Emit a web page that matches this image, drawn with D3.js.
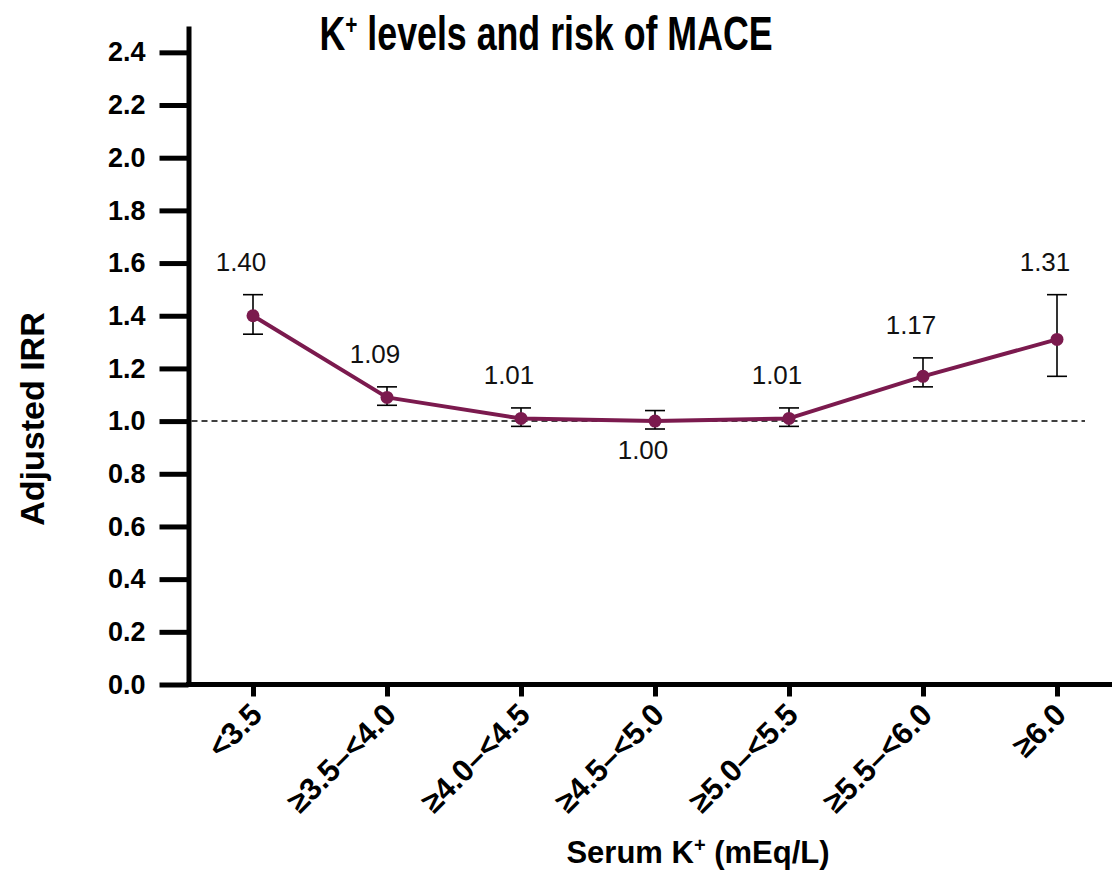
<!DOCTYPE html>
<html>
<head>
<meta charset="utf-8">
<script src="https://cdn.jsdelivr.net/npm/d3@7"></script>
<style>
  html, body { margin: 0; padding: 0; background: #fff; }
  svg { display: block; font-family: "Liberation Sans", Arial, Helvetica, sans-serif; }
</style>
</head>
<body>
<svg id="chart" width="1119" height="870"></svg>
<script>
// Serum potassium categories (mEq/L)
const categories = ["<3.5", "\u22653.5\u2013<4.0", "\u22654.0\u2013<4.5", "\u22654.5\u2013<5.0",
                    "\u22655.0\u2013<5.5", "\u22655.5\u2013<6.0", "\u22656.0"];
// Adjusted incidence rate ratios and 95% confidence limits
const irr   = [1.40, 1.09, 1.01, 1.00, 1.01, 1.17, 1.31];
const lower = [1.33, 1.06, 0.98, 0.97, 0.98, 1.13, 1.17];
const upper = [1.48, 1.13, 1.05, 1.04, 1.05, 1.24, 1.48];
// Y axis tick values
const yTicks = [0, 0.2, 0.4, 0.6, 0.8, 1.0, 1.2, 1.4, 1.6, 1.8, 2.0, 2.2, 2.4];
const referenceIRR = 1.0;

const data = categories.map((c, i) => ({ cat: c, irr: irr[i], lo: lower[i], hi: upper[i] }));

const svg = d3.select("#chart");
const axisX = 188.5;      // position of the vertical axis
const axisY = 684.5;      // position of the horizontal axis
const axisRight = 1112;

const x = d3.scalePoint().domain(categories).range([253, 1057]);
const y = d3.scaleLinear().domain([0, 2.5]).range([axisY, 26]);

const maroon = "#7b1a4e";

// ---- Title (condensed bold) ----
const title = svg.append("text")
  .attr("transform", "translate(546,50) scale(0.745,1)")
  .attr("text-anchor", "middle")
  .attr("font-size", 48).attr("font-weight", "bold");
title.append("tspan").text("K");
title.append("tspan").attr("font-size", 28).attr("dy", -16).text("+");
title.append("tspan").attr("dy", 16).text(" levels and risk of MACE");

// ---- Y axis ----
const yAxis = svg.append("g")
  .attr("transform", `translate(${axisX},0)`)
  .call(d3.axisLeft(y).tickValues(yTicks).tickSize(29).tickSizeOuter(0)
        .tickPadding(14).tickFormat(d3.format(".1f")));
yAxis.select(".domain").attr("stroke-width", 5).attr("stroke", "#000");
yAxis.selectAll(".tick line").attr("stroke-width", 5).attr("stroke", "#000");
yAxis.selectAll(".tick text")
  .attr("font-size", 27).attr("font-weight", "bold")
  .attr("font-family", "Liberation Sans, Arial, sans-serif")
  .attr("fill", "#000");

// ---- X axis ----
const xAxis = svg.append("g")
  .attr("transform", `translate(0,${axisY})`)
  .call(d3.axisBottom(x).tickSize(12).tickSizeOuter(0).tickFormat(""));
xAxis.select(".domain").remove();
xAxis.selectAll(".tick line").attr("stroke-width", 5).attr("stroke", "#000");
xAxis.append("line")
  .attr("x1", axisX - 2.5).attr("x2", axisRight)
  .attr("y1", 0).attr("y2", 0)
  .attr("stroke", "#000").attr("stroke-width", 5);

// rotated category labels
svg.append("g").selectAll("text")
  .data(categories)
  .join("text")
  .attr("transform", d => `translate(${x(d) + 11},${axisY + 32}) rotate(-45)`)
  .attr("text-anchor", "end")
  .attr("font-size", 31).attr("font-weight", "bold")
  .text(d => d);

// ---- Axis titles ----
svg.append("text")
  .attr("transform", `translate(44,419) rotate(-90)`)
  .attr("text-anchor", "middle")
  .attr("font-size", 34).attr("font-weight", "bold")
  .text("Adjusted IRR");

const xTitle = svg.append("text")
  .attr("x", 698).attr("y", 863)
  .attr("text-anchor", "middle")
  .attr("font-size", 31).attr("font-weight", "bold");
xTitle.append("tspan").text("Serum K");
xTitle.append("tspan").attr("font-size", 20).attr("dy", -11).text("+");
xTitle.append("tspan").attr("dy", 11).text(" (mEq/L)");

// ---- Reference line at IRR = 1 ----
svg.append("line")
  .attr("x1", axisX + 3).attr("x2", 1085)
  .attr("y1", y(referenceIRR)).attr("y2", y(referenceIRR))
  .attr("stroke", "#000").attr("stroke-width", 1.5)
  .attr("stroke-dasharray", "6,4");

// ---- Error bars ----
const capHalf = 10;
const eb = svg.append("g").attr("stroke", "#000").attr("stroke-width", 1.6);
eb.selectAll("line.v").data(data).join("line").attr("class", "v")
  .attr("x1", d => x(d.cat)).attr("x2", d => x(d.cat))
  .attr("y1", d => y(d.lo)).attr("y2", d => y(d.hi));
eb.selectAll("line.t").data(data).join("line").attr("class", "t")
  .attr("x1", d => x(d.cat) - capHalf).attr("x2", d => x(d.cat) + capHalf)
  .attr("y1", d => y(d.hi)).attr("y2", d => y(d.hi));
eb.selectAll("line.b").data(data).join("line").attr("class", "b")
  .attr("x1", d => x(d.cat) - capHalf).attr("x2", d => x(d.cat) + capHalf)
  .attr("y1", d => y(d.lo)).attr("y2", d => y(d.lo));

// ---- Line and markers ----
svg.append("path")
  .datum(data)
  .attr("fill", "none")
  .attr("stroke", maroon)
  .attr("stroke-width", 4)
  .attr("stroke-linejoin", "round")
  .attr("d", d3.line().x(d => x(d.cat)).y(d => y(d.irr)));

svg.append("g").selectAll("circle")
  .data(data)
  .join("circle")
  .attr("cx", d => x(d.cat))
  .attr("cy", d => y(d.irr))
  .attr("r", 6.5)
  .attr("fill", maroon);

// ---- Value labels ----
svg.append("g").selectAll("text")
  .data(data)
  .join("text")
  .attr("x", d => x(d.cat) - 12)
  .attr("y", d => d.irr === referenceIRR ? y(d.lo) + 30 : y(d.hi) - 24)
  .attr("text-anchor", "middle")
  .attr("font-size", 26)
  .attr("fill", "#111")
  .text(d => d.irr.toFixed(2));
</script>
</body>
</html>
